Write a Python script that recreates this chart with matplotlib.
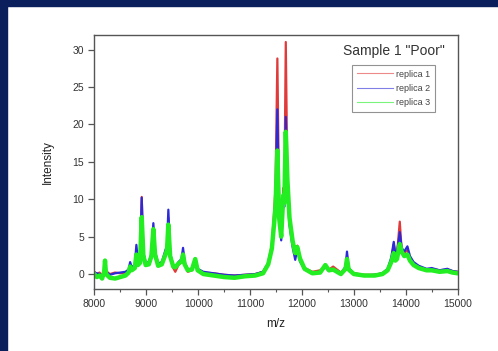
import matplotlib
matplotlib.use('Agg')
import matplotlib.pyplot as plt
from matplotlib.patches import Rectangle
from matplotlib.ticker import MultipleLocator

plt.rcParams['font.family'] = ['Liberation Sans', 'DejaVu Sans']

# m/z key points
mz = [8000, 8050, 8100, 8150, 8190, 8206, 8225, 8300, 8400, 8500,
      8600, 8660, 8690, 8720, 8780, 8810, 8840, 8880, 8913, 8945,
      8990, 9050, 9100, 9137, 9170, 9230, 9300, 9370, 9400, 9426,
      9460, 9520, 9560, 9620, 9680, 9709, 9740, 9800, 9880, 9944,
      9990, 10100, 10300, 10500, 10700, 10900, 11100, 11250, 11350, 11420,
      11460, 11490, 11526, 11560, 11600, 11640, 11660, 11688, 11720, 11760,
      11820, 11870, 11910, 11960, 12050, 12200, 12350, 12450, 12520, 12600,
      12750, 12840, 12867, 12900, 13000, 13200, 13400, 13550, 13650, 13720,
      13768, 13800, 13830, 13884, 13920, 13970, 14031, 14080, 14150, 14250,
      14400, 14500, 14650, 14800, 14900, 15000]

replica1 = [0.3, 0.0, 0.2, -0.2, 0.5, 1.6, 0.4, 0.0, 0.2, 0.1,
            0.2, 0.5, 1.2, 0.8, 1.0, 3.0, 1.5, 1.6, 10.3, 2.8,
            1.4, 1.5, 2.5, 6.2, 2.8, 1.3, 1.4, 2.8, 3.6, 7.5,
            2.6, 0.8, 0.3, 1.2, 1.6, 3.0, 1.4, 0.3, 0.5, 1.6,
            0.6, 0.2, 0.1, -0.1, -0.2, -0.1, 0.0, 0.3, 1.5, 4.0,
            8.0, 11.5, 28.8, 9.0, 5.5, 11.5, 10.0, 31.0, 12.0, 7.0,
            4.2, 2.6, 3.8, 2.0, 0.8, 0.3, 0.5, 1.0, 0.6, 1.0,
            0.2, 0.8, 2.4, 0.7, 0.1, -0.1, -0.1, 0.1, 0.6, 1.8,
            4.0, 2.5, 2.6, 7.0, 3.2, 2.8, 3.2, 2.0, 1.4, 1.0,
            0.6, 0.7, 0.5, 0.6, 0.4, 0.3]

replica2 = [0.2, 0.1, 0.0, -0.3, 0.4, 1.5, 0.3, -0.1, 0.1, 0.2,
            0.3, 0.6, 1.6, 0.9, 1.2, 3.9, 1.7, 1.8, 10.2, 2.9,
            1.5, 1.6, 2.7, 6.8, 3.0, 1.4, 1.6, 3.2, 3.8, 8.6,
            2.8, 1.1, 0.8, 1.6, 2.0, 3.5, 1.6, 0.6, 0.7, 1.8,
            0.7, 0.3, 0.1, -0.1, -0.2, -0.1, 0.0, 0.3, 1.4, 3.6,
            7.0, 9.0, 22.0, 7.0, 4.5, 9.5, 9.0, 21.0, 11.0, 6.5,
            3.6, 1.9, 3.4, 1.7, 0.6, 0.2, 0.3, 0.9, 0.4, 0.6,
            0.1, 1.0, 3.0, 0.8, 0.1, -0.2, -0.1, 0.1, 0.7, 2.2,
            4.3, 2.6, 2.8, 5.6, 3.5, 3.0, 3.7, 2.4, 1.6, 1.1,
            0.7, 0.8, 0.5, 0.7, 0.4, 0.3]

replica3 = [0.0, -0.4, -0.2, -0.6, 0.3, 1.8, 0.0, -0.5, -0.6, -0.4,
            -0.2, 0.2, 1.0, 0.5, 0.8, 2.6, 1.2, 1.5, 7.6, 2.4,
            1.2, 1.3, 2.4, 6.0, 2.6, 1.1, 1.3, 2.6, 3.2, 6.6,
            2.4, 1.0, 0.9, 1.4, 1.7, 2.6, 1.3, 0.5, 0.6, 2.0,
            0.5, 0.0, -0.2, -0.4, -0.5, -0.3, -0.2, 0.1, 1.3, 3.4,
            6.5, 9.0, 16.5, 7.5, 5.0, 10.5, 9.5, 19.0, 12.5, 7.5,
            4.4, 2.8, 3.6, 2.1, 0.7, 0.1, 0.2, 1.2, 0.5, 0.6,
            0.0, 0.7, 2.0, 0.6, 0.0, -0.2, -0.2, 0.0, 0.5, 1.6,
            2.8, 1.8, 2.0, 4.0, 3.0, 2.4, 2.6, 1.8, 1.2, 0.8,
            0.5, 0.5, 0.3, 0.4, 0.2, 0.1]

labels = ['replica 1', 'replica 2', 'replica 3']
colors = ['#e03a3a', '#2a2ad8', '#22ee22']

fig = plt.figure(figsize=(4.98, 3.51), dpi=100, facecolor='white')
# navy slide border (top and left)
fig.patches.append(Rectangle((0, 1 - 6 / 351), 1, 6 / 351, transform=fig.transFigure,
                             color='#0b1f5c', zorder=0))
fig.patches.append(Rectangle((0, 0), 7 / 498, 1, transform=fig.transFigure,
                             color='#0b1f5c', zorder=0))

ax = fig.add_axes([0.1894, 0.1766, 0.7297, 0.725])
ax.plot(mz, replica1, color=colors[0], lw=1.6, label=labels[0])
ax.plot(mz, replica2, color=colors[1], lw=1.6, label=labels[1])
ax.plot(mz, replica3, color=colors[2], lw=3.2, label=labels[2], solid_joinstyle='round')

ax.set_xlim(8000, 15000)
ax.set_ylim(-2, 32)
ax.xaxis.set_major_locator(MultipleLocator(1000))
ax.xaxis.set_minor_locator(MultipleLocator(500))
ax.yaxis.set_major_locator(MultipleLocator(5))

for s in ax.spines.values():
    s.set_color('#555555')
    s.set_linewidth(1.0)
ax.tick_params(which='major', length=4, width=0.9, color='#555555',
               labelsize=7.5, labelcolor='#333333')
ax.tick_params(which='minor', length=2, width=0.8, color='#555555')

ax.set_xlabel('m/z', fontsize=8.5, color='#222222', labelpad=6)
ax.set_ylabel('Intensity', fontsize=8.5, color='#222222', labelpad=13)

ax.text(0.963, 0.935, 'Sample 1 "Poor"', transform=ax.transAxes, ha='right',
        va='center', fontsize=10, color='#333333')

leg = ax.legend(loc='upper right', bbox_to_anchor=(0.9375, 0.88), fontsize=6.5,
                frameon=True, fancybox=False, edgecolor='#777777',
                handlelength=4.0, borderpad=0.5, labelspacing=0.6,
                handletextpad=0.4, borderaxespad=0)
leg.get_frame().set_linewidth(0.8)
for line in leg.get_lines():
    line.set_linewidth(0.8)
    line.set_alpha(0.6)
for t in leg.get_texts():
    t.set_color('#444444')

fig.savefig('out.png', dpi=100, facecolor='white')
